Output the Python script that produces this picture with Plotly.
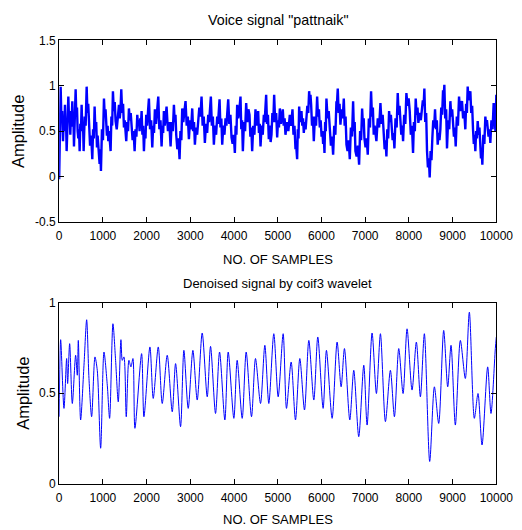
import plotly.graph_objects as go

# ---------------- data ----------------
voice_samples = [
    0,
    12, 20, 34, 52, 68, 88, 103, 118, 133, 146, 158, 171,
    184, 197, 210, 225, 240, 255, 270, 286, 301, 314, 327, 339,
    352, 365, 377, 392, 408, 423, 438, 454, 469, 484, 499, 514,
    530, 545, 560, 583, 606, 629, 647, 665, 682, 707, 733, 758,
    776, 794, 811, 829, 847, 865, 880, 895, 910, 925, 941, 956,
    979, 1002, 1025, 1043, 1061, 1078, 1093, 1109, 1124, 1142, 1160, 1177,
    1195, 1213, 1230, 1250, 1271, 1291, 1317, 1343, 1368, 1386, 1404, 1421,
    1441, 1462, 1482, 1500, 1518, 1535, 1555, 1576, 1596, 1616, 1637, 1657,
    1680, 1703, 1726, 1746, 1767, 1787, 1805, 1823, 1840, 1855, 1871, 1886,
    1904, 1922, 1939, 1957, 1975, 1992, 2012, 2033, 2053, 2079, 2105, 2130,
    2150, 2170, 2190, 2216, 2242, 2267, 2292, 2318, 2343, 2361, 2379, 2396,
    2416, 2437, 2457, 2488, 2519, 2549, 2574, 2600, 2625, 2643, 2661, 2678,
    2703, 2729, 2754, 2774, 2795, 2815, 2840, 2866, 2891, 2917, 2943, 2968,
    2993, 3019, 3044, 3064, 3085, 3105, 3130, 3156, 3181, 3206, 3232, 3257,
    3282, 3308, 3333, 3359, 3385, 3410, 3430, 3450, 3470, 3493, 3516, 3539,
    3564, 3590, 3615, 3633, 3651, 3669, 3689, 3710, 3730, 3755, 3781, 3806,
    3826, 3847, 3867, 3892, 3918, 3943, 3968, 3994, 4019, 4037, 4055, 4072,
    4097, 4123, 4148, 4166, 4184, 4202, 4227, 4253, 4278, 4303, 4329, 4354,
    4374, 4395, 4415, 4440, 4466, 4491, 4511, 4532, 4552, 4570, 4588, 4606,
    4631, 4657, 4682, 4700, 4718, 4735, 4755, 4776, 4796, 4816, 4837, 4857,
    4877, 4898, 4918, 4941, 4964, 4987, 5007, 5028, 5048, 5071, 5094, 5116,
    5136, 5157, 5177, 5210, 5243, 5276, 5296, 5317, 5337, 5360, 5383, 5406,
    5419, 5432, 5444, 5459, 5475, 5490, 5508, 5526, 5543, 5561, 5579, 5596,
    5616, 5637, 5657, 5677, 5698, 5718, 5733, 5749, 5764, 5784, 5805, 5825,
    5850, 5876, 5901, 5921, 5942, 5962, 5982, 6003, 6023, 6038, 6054, 6069,
    6084, 6099, 6114, 6140, 6166, 6191, 6216, 6242, 6267, 6292, 6318, 6343,
    6353, 6363, 6373, 6393, 6414, 6434, 6460, 6486, 6511, 6531, 6552, 6572,
    6597, 6623, 6648, 6673, 6699, 6724, 6742, 6760, 6777, 6805, 6833, 6861,
    6884, 6907, 6930, 6948, 6966, 6983, 7008, 7034, 7059, 7084, 7110, 7135,
    7155, 7176, 7196, 7216, 7237, 7257, 7288, 7319, 7349, 7374, 7400, 7425,
    7445, 7466, 7486, 7506, 7527, 7547, 7567, 7588, 7608, 7628, 7649, 7669,
    7694, 7720, 7745, 7765, 7786, 7806, 7826, 7847, 7867, 7892, 7918, 7943,
    7968, 7994, 8019, 8044, 8070, 8095, 8115, 8136, 8156, 8176, 8197, 8217,
    8245, 8273, 8301, 8319, 8337, 8354, 8374, 8395, 8415, 8435, 8456, 8476,
    8496, 8517, 8537, 8557, 8578, 8598, 8618, 8639, 8659, 8679, 8700, 8720,
    8740, 8761, 8781, 8791, 8801, 8811, 8831, 8852, 8872, 8897, 8923, 8949,
    8969, 8990, 9010, 9030, 9051, 9071, 9096, 9122, 9147, 9170, 9192, 9215,
    9240, 9266, 9291, 9309, 9327, 9345, 9365, 9386, 9406, 9426, 9447, 9467,
    9485, 9502, 9520, 9538, 9556, 9574, 9594, 9614, 9634, 9649, 9665, 9680,
    9703, 9726, 9749, 9767, 9785, 9802, 9822, 9843, 9863, 9888, 9914, 9939,
    9959, 9980, 10000,
]
voice_amplitude = [
    -0.03,
    0.45, 0.35, 0.99, 0.62, 0.72, 0.39, 0.60, 0.52, 0.79, 0.50, 0.60, 0.28,
    0.60, 0.52, 0.88, 0.64, 0.72, 0.46, 0.68, 0.60, 0.83, 0.55, 0.64, 0.33,
    0.66, 0.56, 0.96, 0.68, 0.76, 0.50, 0.42, 0.52, 0.28, 0.58, 0.50, 0.79,
    0.50, 0.60, 0.28, 0.66, 0.56, 0.99, 0.70, 0.80, 0.54, 0.34, 0.45, 0.19,
    0.52, 0.42, 0.77, 0.50, 0.60, 0.32, 0.45, 0.35, 0.24, 0.14, 0.30, 0.06,
    0.52, 0.40, 0.86, 0.66, 0.74, 0.54, 0.45, 0.56, 0.39, 0.50, 0.36, 0.28,
    0.66, 0.56, 0.94, 0.72, 0.82, 0.61, 0.52, 0.68, 0.79, 0.64, 0.74, 0.96,
    0.70, 0.80, 0.54, 0.62, 0.46, 0.39, 0.60, 0.50, 0.75, 0.62, 0.70, 0.54,
    0.40, 0.50, 0.28, 0.52, 0.44, 0.68, 0.56, 0.62, 0.50, 0.64, 0.58, 0.72,
    0.46, 0.56, 0.28, 0.50, 0.42, 0.68, 0.56, 0.72, 0.86, 0.52, 0.62, 0.32,
    0.56, 0.48, 0.74, 0.58, 0.70, 0.88, 0.52, 0.62, 0.33, 0.56, 0.48, 0.72,
    0.56, 0.64, 0.77, 0.50, 0.60, 0.33, 0.60, 0.50, 0.79, 0.60, 0.68, 0.46,
    0.30, 0.42, 0.19, 0.50, 0.40, 0.75, 0.60, 0.72, 0.83, 0.56, 0.66, 0.41,
    0.62, 0.52, 0.75, 0.50, 0.60, 0.35, 0.54, 0.46, 0.64, 0.76, 0.66, 0.88,
    0.56, 0.66, 0.37, 0.58, 0.48, 0.68, 0.60, 0.74, 0.88, 0.56, 0.66, 0.35,
    0.56, 0.46, 0.66, 0.58, 0.72, 0.85, 0.54, 0.64, 0.35, 0.56, 0.46, 0.64,
    0.56, 0.70, 0.85, 0.58, 0.68, 0.43, 0.36, 0.46, 0.26, 0.56, 0.46, 0.79,
    0.64, 0.74, 0.88, 0.52, 0.62, 0.28, 0.60, 0.50, 0.81, 0.60, 0.74, 0.68,
    0.44, 0.54, 0.28, 0.56, 0.46, 0.74, 0.56, 0.64, 0.72, 0.48, 0.58, 0.33,
    0.56, 0.46, 0.68, 0.60, 0.74, 0.90, 0.58, 0.68, 0.41, 0.56, 0.38, 0.46,
    0.70, 0.60, 0.90, 0.60, 0.70, 0.43, 0.62, 0.54, 0.75, 0.58, 0.66, 0.74,
    0.56, 0.64, 0.46, 0.60, 0.50, 0.68, 0.56, 0.62, 0.74, 0.46, 0.56, 0.30,
    0.36, 0.26, 0.19, 0.52, 0.42, 0.77, 0.60, 0.66, 0.72, 0.56, 0.64, 0.48,
    0.60, 0.52, 0.66, 0.78, 0.70, 0.94, 0.84, 0.90, 0.79, 0.56, 0.66, 0.39,
    0.66, 0.56, 0.88, 0.66, 0.74, 0.54, 0.62, 0.44, 0.50, 0.36, 0.44, 0.26,
    0.60, 0.50, 0.86, 0.64, 0.72, 0.50, 0.34, 0.44, 0.24, 0.56, 0.46, 0.83,
    0.78, 0.88, 0.97, 0.70, 0.80, 0.57, 0.74, 0.64, 0.86, 0.56, 0.66, 0.35,
    0.28, 0.40, 0.19, 0.54, 0.44, 0.83, 0.50, 0.60, 0.28, 0.22, 0.34, 0.13,
    0.50, 0.40, 0.75, 0.56, 0.64, 0.42, 0.32, 0.42, 0.24, 0.64, 0.54, 0.94,
    0.66, 0.76, 0.46, 0.56, 0.44, 0.39, 0.64, 0.54, 0.81, 0.58, 0.68, 0.42,
    0.30, 0.40, 0.22, 0.52, 0.42, 0.72, 0.60, 0.68, 0.54, 0.40, 0.48, 0.31,
    0.64, 0.54, 0.92, 0.68, 0.78, 0.54, 0.46, 0.56, 0.39, 0.68, 0.58, 0.92,
    0.78, 0.86, 0.72, 0.46, 0.56, 0.26, 0.60, 0.50, 0.86, 0.68, 0.76, 0.59,
    0.70, 0.62, 0.75, 0.84, 0.78, 0.97, 0.60, 0.70, 0.28, 0.10, 0.20, -0.01,
    0.28, 0.18, 0.43, 0.62, 0.54, 0.74, 0.52, 0.62, 0.35, 0.48, 0.40, 0.52,
    0.76, 0.68, 0.95, 0.86, 0.92, 1.01, 0.64, 0.74, 0.31, 0.62, 0.52, 0.83,
    0.66, 0.74, 0.59, 0.44, 0.54, 0.33, 0.66, 0.56, 0.88, 0.72, 0.80, 0.83,
    0.64, 0.72, 0.52, 0.80, 0.70, 0.99, 0.84, 0.90, 0.94, 0.70, 0.78, 0.52,
    0.36, 0.46, 0.28, 0.50, 0.42, 0.61, 0.46, 0.54, 0.35, 0.20, 0.30, 0.13,
    0.46, 0.36, 0.66, 0.56, 0.62, 0.50, 0.44, 0.52, 0.37, 0.62, 0.52, 0.81,
    0.66, 0.50, 0.90,
]

denoised_samples = [0, 34, 110, 171, 194, 240, 301, 377, 415, 438, 491, 568, 629, 682, 743, 819, 872, 949, 1025,
                    1101, 1154, 1230, 1291, 1352, 1413, 1444, 1482, 1535, 1596, 1642, 1688, 1733, 1886, 1939, 2076,
                    2152, 2267, 2358, 2472, 2587, 2663, 2777, 2853, 2952, 3059, 3158, 3272, 3387, 3463, 3577, 3669,
                    3790, 3867, 3996, 4072, 4187, 4278, 4400, 4491, 4606, 4705, 4796, 4910, 5010, 5124, 5200, 5307,
                    5406, 5505, 5612, 5711, 5825, 5916, 6038, 6114, 6244, 6358, 6450, 6526, 6648, 6739, 6853, 6968,
                    7044, 7158, 7257, 7349, 7463, 7577, 7669, 7768, 7867, 7958, 8072, 8171, 8263, 8354, 8476, 8583,
                    8682, 8796, 8888, 8964, 9063, 9177, 9291, 9383, 9497, 9581, 9673, 9802, 9878, 9977, 10000]
denoised_amplitude = [0.37, 0.795, 0.416, 0.691, 0.553, 0.773, 0.443, 0.709, 0.599, 0.791, 0.352, 0.654, 0.905,
                      0.581, 0.370, 0.700, 0.626, 0.196, 0.727, 0.544, 0.361, 0.883, 0.681, 0.452, 0.795, 0.681,
                      0.700, 0.370, 0.681, 0.645, 0.691, 0.306, 0.718, 0.370, 0.755, 0.471, 0.755, 0.443, 0.709,
                      0.397, 0.663, 0.315, 0.736, 0.416, 0.736, 0.462, 0.832, 0.480, 0.758, 0.388, 0.727, 0.352,
                      0.727, 0.361, 0.681, 0.361, 0.727, 0.370, 0.691, 0.443, 0.764, 0.443, 0.828, 0.480, 0.828,
                      0.416, 0.672, 0.352, 0.691, 0.407, 0.791, 0.462, 0.810, 0.416, 0.736, 0.361, 0.782, 0.535,
                      0.746, 0.352, 0.626, 0.260, 0.654, 0.324, 0.832, 0.498, 0.828, 0.343, 0.626, 0.370, 0.746,
                      0.498, 0.855, 0.517, 0.782, 0.480, 0.828, 0.123, 0.535, 0.333, 0.846, 0.535, 0.764, 0.324,
                      0.791, 0.581, 0.947, 0.361, 0.498, 0.214, 0.645, 0.388, 0.746, 0.810]

assert len(voice_samples) == len(voice_amplitude), (len(voice_samples), len(voice_amplitude))
assert len(denoised_samples) == len(denoised_amplitude)

x_tick_vals = [0, 1000, 2000, 3000, 4000, 5000, 6000, 7000, 8000, 9000, 10000]
x_tick_text = ["0", "1000", "2000", "3000", "4000", "5000", "6000", "7000", "8000", "9000", "10000"]
top_y_tick_vals = [-0.5, 0, 0.5, 1, 1.5]
top_y_tick_text = ["-0.5", "0", "0.5", "1", "1.5"]
bottom_y_tick_vals = [0, 0.5, 1]
bottom_y_tick_text = ["0", "0.5", "1"]

top_title = 'Voice signal "pattnaik"'
bottom_title = "Denoised signal by coif3 wavelet"
x_label = "NO. OF SAMPLES"
y_label = "Amplitude"

# ---------------- figure ----------------
W, H = 530, 535
FONT = "Liberation Sans, Arial, sans-serif"
BODY_MARGIN = 8

# observed mapping of page pixels onto the photographed picture
SX, OX = 0.963, 2.6
SY, OY = 0.978, 5.4


def fx(px):  # target picture pixel -> paper fraction
    return ((px - OX) / SX - BODY_MARGIN) / W


def fy(py):
    return 1 - ((py - OY) / SY - BODY_MARGIN) / H


fig = go.Figure()
fig.add_trace(go.Scatter(x=voice_samples, y=voice_amplitude, mode="lines",
                         line=dict(color="rgb(0,0,255)", width=2.4), xaxis="x", yaxis="y",
                         showlegend=False, hoverinfo="skip"))
fig.add_trace(go.Scatter(x=denoised_samples, y=denoised_amplitude, mode="lines",
                         line=dict(color="rgb(0,0,255)", width=1, shape="spline", smoothing=0.8),
                         xaxis="x2", yaxis="y2", showlegend=False, hoverinfo="skip"))

common_axis = dict(showline=True, linecolor="black", linewidth=1, mirror="ticks",
                   ticks="inside", ticklen=5, tickwidth=1, tickcolor="black",
                   showgrid=False, zeroline=False,
                   tickfont=dict(family=FONT, size=12, color="black"))

fig.update_layout(
    width=W, height=H, autosize=False,
    margin=dict(l=0, r=0, t=0, b=0),
    paper_bgcolor="white", plot_bgcolor="white",
    font=dict(family=FONT, color="black"),
    xaxis=dict(domain=[fx(58.5), fx(496)], range=[0, 10000], anchor="y",
               tickvals=x_tick_vals, ticktext=x_tick_text, ticklabelstandoff=3, **common_axis),
    yaxis=dict(domain=[fy(221), fy(38.7)], range=[-0.5, 1.5], anchor="x",
               tickvals=top_y_tick_vals, ticktext=top_y_tick_text, **common_axis),
    xaxis2=dict(domain=[fx(58.5), fx(496)], range=[0, 10000], anchor="y2",
                tickvals=x_tick_vals, ticktext=x_tick_text, ticklabelstandoff=3, **common_axis),
    yaxis2=dict(domain=[fy(484), fy(302)], range=[0, 1], anchor="x2",
                tickvals=bottom_y_tick_vals, ticktext=bottom_y_tick_text, **common_axis),
)


def text_at(txt, px, py, angle=0, size=13):
    fig.add_annotation(text=txt, x=fx(px), y=fy(py), xref="paper", yref="paper",
                       xanchor="center", yanchor="middle", showarrow=False, textangle=angle,
                       font=dict(family=FONT, size=size, color="black"))


cx = (58.5 + 496) / 2
text_at(top_title, cx + 1, 18, size=14.3)
text_at(x_label, cx, 259)
text_at(bottom_title, cx, 283)
text_at(x_label, cx, 520)
text_at(y_label, 18, 130, angle=-90, size=16.5)
text_at(y_label, 22, 393, angle=-90, size=16.5)

fig.write_html("out.html", config={"displayModeBar": False})
